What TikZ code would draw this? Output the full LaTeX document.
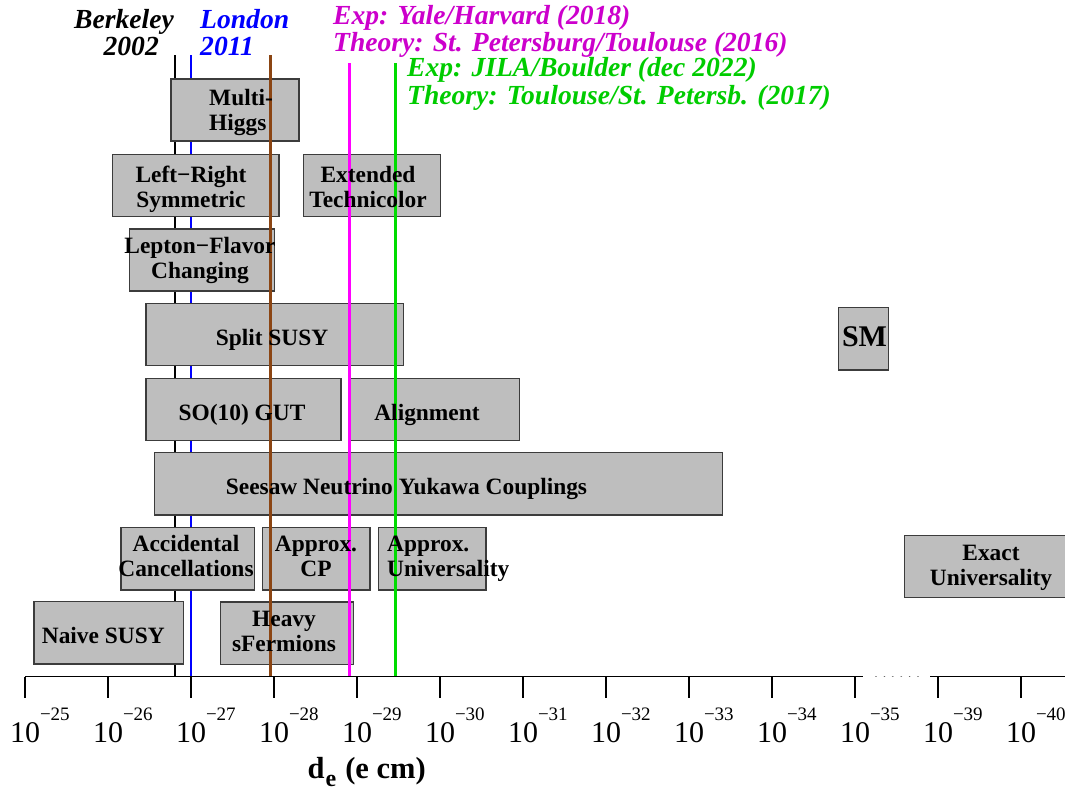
\documentclass[tikz,border=0pt]{standalone}
\usepackage{fontspec}
\setmainfont{Liberation Serif}
\definecolor{boxgray}{RGB}{190,190,190}
\definecolor{edgegray}{RGB}{60,60,60}
\definecolor{brownline}{RGB}{139,69,19}
\definecolor{magline}{RGB}{255,0,255}
\definecolor{magtext}{RGB}{204,0,204}
\definecolor{greenline}{RGB}{0,220,0}
\definecolor{greentext}{RGB}{0,204,0}
\tikzset{
  box/.style={draw=edgegray, fill=boxgray, line width=1.2pt, inner sep=0pt, outer sep=0pt},
  lbl/.style={inner sep=0pt, align=center, font=\fontsize{23.4}{25}\selectfont\bfseries},
  toplbl/.style={inner sep=0pt, font=\fontsize{27.6}{24}\selectfont\bfseries\itshape},
  axisline/.style={line width=1.2pt},
  ticklbl/.style={inner sep=0pt, anchor=base, font=\fontsize{30}{30}\selectfont},
  oldbound/.style={line width=2.2pt},
  newbound/.style={line width=3pt},
}
\newcommand\bx[5]{\node[box, minimum width=#4pt, minimum height=#5pt] (#1) at (#2,#3) {};}
\newcommand\pw[1]{10\rlap{\raisebox{22pt}{\fontsize{19}{19}\selectfont −#1}}}
\begin{document}
\begin{tikzpicture}[x=1pt,y=-1pt]
\useasboundingbox (0,0) rectangle (1065,793);
% limit lines behind the boxes
\coordinate (bk-top) at (175,55);   \coordinate (bk-bot) at (175,676.5);
\coordinate (ln-top) at (191,55);   \coordinate (ln-bot) at (191,676.5);
\draw[oldbound, black] (bk-top) -- (bk-bot);
\draw[oldbound, blue] (ln-top) -- (ln-bot);
% boxes
\bx{mh}{235}{110}{128}{62}
\bx{lr}{195.85}{185.3}{166.3}{62}
\bx{etc}{372}{185.3}{137.4}{62}
\bx{lfc}{202}{260}{145.4}{62}
\bx{split}{274.65}{334.5}{257.3}{62.4}
\bx{sm}{863.3}{338.65}{50}{62.7}
\bx{so10}{243.5}{409.3}{195}{62}
\bx{align}{435}{409.3}{168.6}{62}
\bx{seesaw}{438.3}{483.85}{568}{62.3}
\bx{acc}{187.65}{558.65}{133.3}{62.7}
\bx{acp}{316.15}{558.65}{107.7}{62.7}
\bx{aun}{432.15}{558.65}{107.7}{62.7}
\bx{exu}{985.15}{566.3}{161.7}{62}
\bx{heavy}{287}{633.15}{132.6}{62.3}
\bx{naive}{108.65}{632.85}{149.3}{62.3}
% limit lines over the boxes
\coordinate (br-top) at (270.5,55);  \coordinate (br-bot) at (270.5,676.5);
\coordinate (mg-top) at (349,63);    \coordinate (mg-bot) at (349,676.5);
\coordinate (gr-top) at (395,63);    \coordinate (gr-bot) at (395,676.5);
\draw[newbound, brownline] (br-top) -- (br-bot);
\draw[newbound, magline] (mg-top) -- (mg-bot);
\draw[newbound, greenline] (gr-top) -- (gr-bot);
% box texts
\node[lbl, anchor=west, align=left] (t-mh) at (209,112.5) {\strut Multi-\\\strut Higgs};
\node[lbl] (t-lr) at (191,190) {\strut Left−Right\\\strut Symmetric};
\node[lbl] (t-etc) at (368,190) {\strut Extended\\\strut Technicolor};
\node[lbl] (t-lfc) at (200,260.5) {\strut Lepton−Flavor\\\strut Changing};
\node[lbl, anchor=base] (t-split) at (272,345) {Split SUSY};
\node[lbl, anchor=base, font=\fontsize{30}{30}\selectfont\bfseries] (t-sm) at (864.5,346.7) {SM};
\node[lbl, anchor=base] (t-so10) at (242,420) {SO(10) GUT};
\node[lbl, anchor=base] (t-align) at (427,420) {Alignment};
\node[lbl, anchor=base] (t-seesaw) at (406.5,494) {Seesaw Neutrino Yukawa Couplings};
\node[lbl] (t-acc) at (186,559.2) {\strut Accidental\\\strut Cancellations};
\node[lbl] (t-acp) at (316,559.2) {\strut Approx.\\\strut CP};
\node[lbl, anchor=west, align=left] (t-aun) at (387,559.2) {\strut Approx.\\\strut Universality};
\node[lbl] (t-heavy) at (284,634.2) {\strut Heavy\\\strut sFermions};
\node[lbl, anchor=base] (t-naive) at (103.3,643.3) {Naive SUSY};
\node[lbl] (t-exu) at (991,568.3) {\strut Exact\\\strut Universality};
% top labels
\node[toplbl, anchor=east, align=right] (berk) at (174,36.2) {\strut Berkeley\\\strut 2002\hspace*{15pt}};
\node[toplbl, anchor=west, align=left, text=blue] (lond) at (200,36.2) {\strut London\\\strut 2011};
\node[toplbl, anchor=west, align=left, text=magtext] (yale) at (333,31.7) {\strut Exp: Yale/Harvard (2018)\\\strut Theory: St. Petersburg/Toulouse (2016)};
\node[toplbl, anchor=west, align=left, text=greentext] (jila) at (407,84.5) {\strut Exp: JILA/Boulder (dec 2022)\\\strut Theory: Toulouse/St. Petersb. (2017)};
% axis
\coordinate (ax0) at (25,676.5);  \coordinate (ax1) at (863,676.5);
\coordinate (ax2) at (930,676.5); \coordinate (ax3) at (1066,676.5);
\coordinate (dt0) at (876,676.5); \coordinate (dt1) at (918,676.5);
\draw[axisline] (ax0) -- (ax1);
\draw[axisline] (ax2) -- (ax3);
\draw[line width=1.7pt, black!60, line cap=round, dash pattern=on 0.01pt off 8.39pt] (dt0) -- (dt1);
\foreach \x/\e in {25/25,108/26,191/27,274/28,357/29,440/30,523/31,606/32,689/33,772/34,855/35,938/39,1021/40}{
  \draw[axisline] (\x,676.5) -- (\x,698);
  \node[ticklbl] (tl\e) at (\x,742) {\pw{\e}};
}
\node[inner sep=0pt, anchor=base west, font=\fontsize{30.5}{30}\selectfont\bfseries] (xtitle) at (307.5,778)
  {d\hspace{1pt}\raisebox{-8pt}{\fontsize{24}{24}\selectfont e}\hspace{9pt}(e cm)};
\end{tikzpicture}
\end{document}
